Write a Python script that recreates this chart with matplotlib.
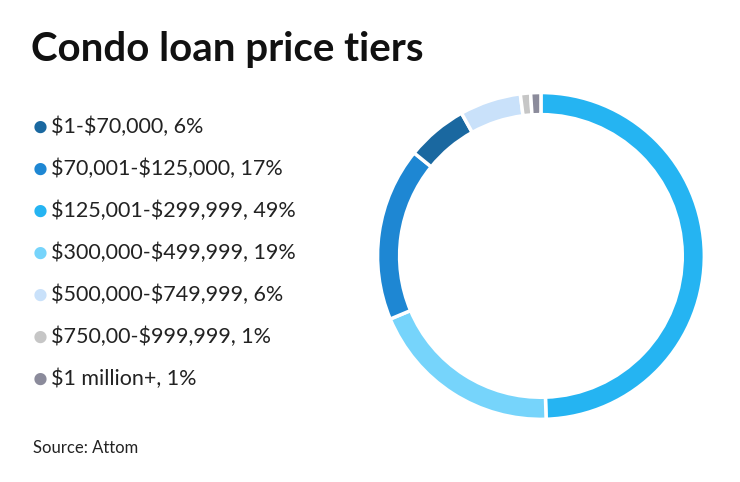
import matplotlib.pyplot as plt

# legend order
labels = ['$1-$70,000, 6%', '$70,001-$125,000, 17%', '$125,001-$299,999, 49%',
          '$300,000-$499,999, 19%', '$500,000-$749,999, 6%',
          '$750,00-$999,999, 1%', '$1 million+, 1%']
colors = ['#1a68a0', '#1e87d3', '#25b4f2', '#76d4fb', '#c9e1fa', '#c6c6c6', '#8b8b9b']

# order of slices clockwise from the top
pie_order = [2, 3, 1, 0, 4, 5, 6]
values = [6, 17, 49, 19, 6, 1, 1]

plt.rcParams['font.family'] = ['Lato', 'DejaVu Sans']
plt.rcParams['text.parse_math'] = False

fig = plt.figure(figsize=(7.4, 4.82), dpi=100)
fig.patch.set_facecolor('white')

fig.text(31 / 740, 1 - 50 / 482, 'Condo loan price tiers', fontsize=29,
         fontweight='bold', va='center', ha='left', color='#111111')

for i, lab in enumerate(labels):
    y = 1 - (127 + i * 42) / 482
    fig.text(40 / 740, y, '\u25CF', color=colors[i], fontsize=18, ha='center', va='center')
    fig.text(51 / 740, y, lab, fontsize=15.5, ha='left', va='center', color='#222222')

fig.text(33 / 740, 1 - 448 / 482, 'Source: Attom', fontsize=12, ha='left', va='center',
         color='#222222')

ax = fig.add_axes([0.731 - 0.223, 0.469 - 0.3425, 0.446, 0.685])
ax.pie([values[k] for k in pie_order], colors=[colors[k] for k in pie_order],
       startangle=90, counterclock=False, radius=1,
       wedgeprops=dict(width=0.135, edgecolor='white', linewidth=2.5))
ax.set_xlim(-1.01, 1.01)
ax.set_ylim(-1.01, 1.01)
ax.set_aspect('equal')
ax.axis('off')

fig.savefig('out.png', dpi=100, facecolor='white')
